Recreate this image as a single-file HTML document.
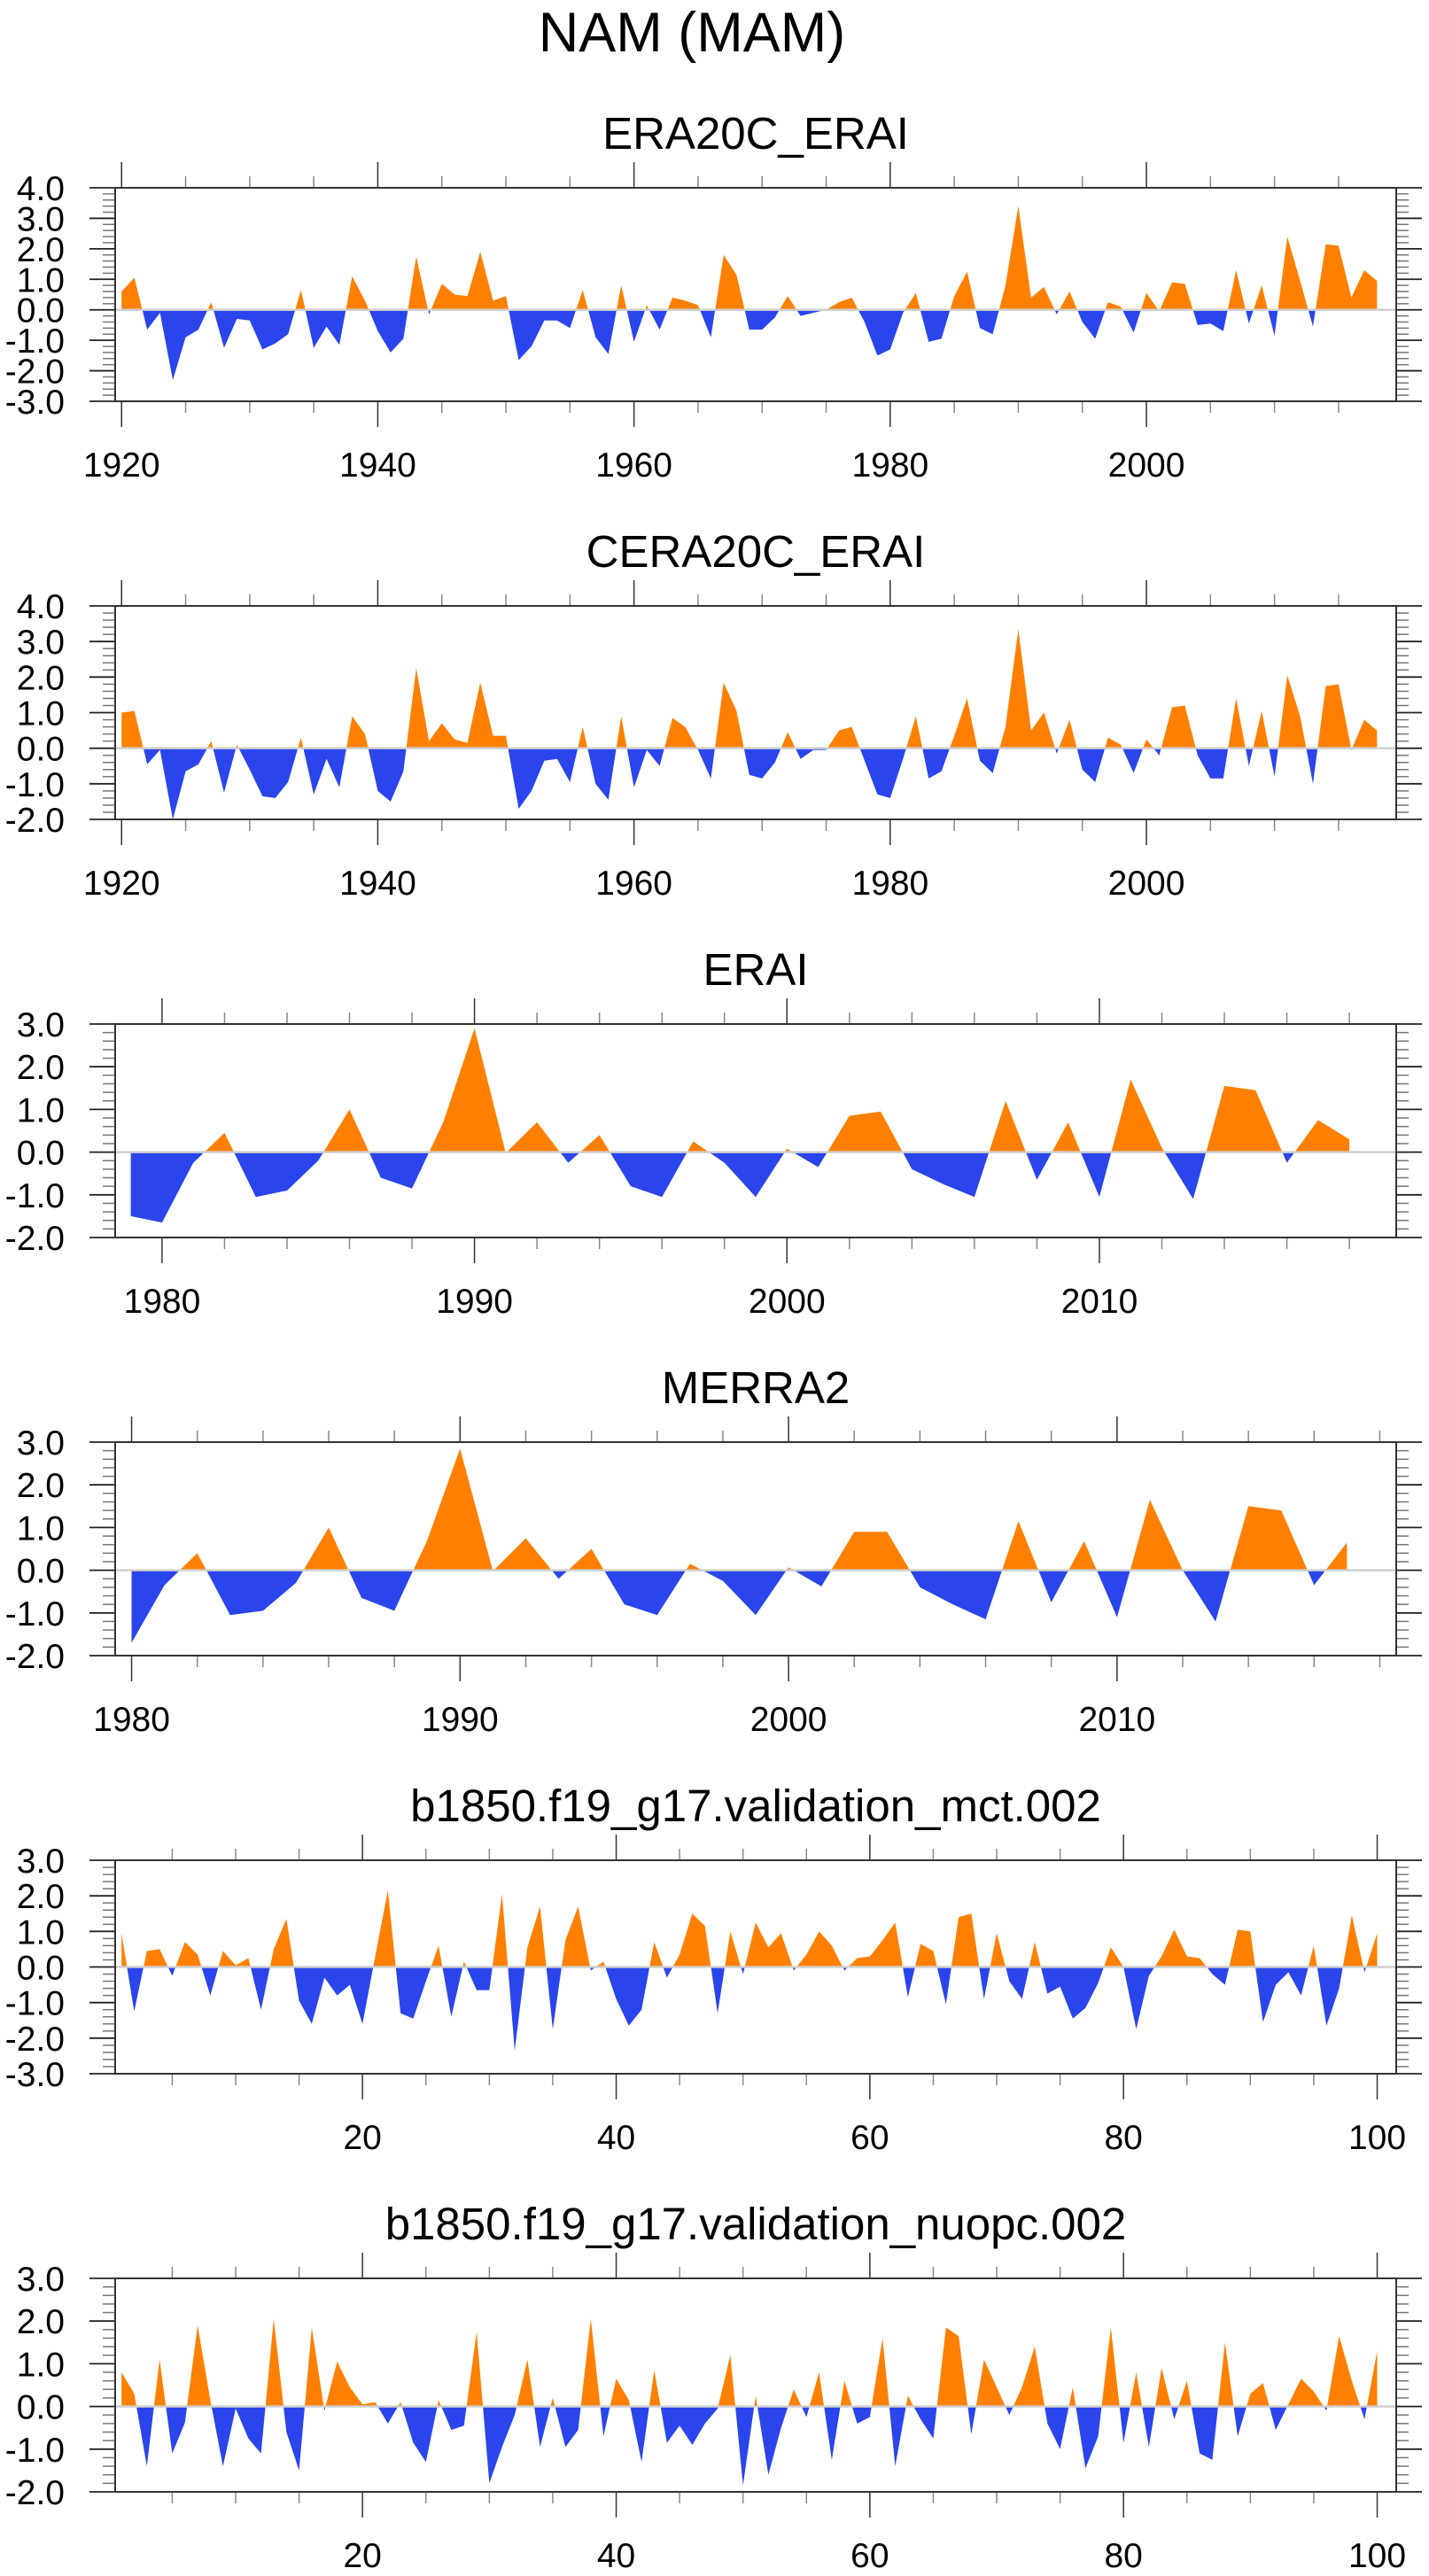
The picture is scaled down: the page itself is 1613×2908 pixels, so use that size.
<!DOCTYPE html>
<html>
<head>
<meta charset="utf-8">
<style>
  html, body { margin: 0; padding: 0; background: #ffffff; }
  svg { display: block; }
  text { font-family: "Liberation Sans", "DejaVu Sans", sans-serif; fill: #000; }
</style>
</head>
<body>
<svg id="chart" xmlns="http://www.w3.org/2000/svg" width="1613" height="2908" viewBox="0 0 1613 2908">
  <rect x="0" y="0" width="1613" height="2908" fill="#ffffff"></rect>
  <text x="781" y="58" font-size="63" text-anchor="middle">NAM (MAM)</text>
</svg>
<script>
// ---------------- data ----------------
const era20cStart = 1920;
const era20cValues = [0.6,1.05,-0.65,-0.1,-2.3,-0.9,-0.65,0.25,-1.25,-0.3,-0.35,-1.3,-1.1,-0.8,0.65,-1.25,-0.55,-1.15,1.1,0.3,-0.7,-1.4,-0.95,1.75,-0.15,0.85,0.5,0.45,1.9,0.3,0.45,-1.65,-1.2,-0.35,-0.35,-0.6,0.65,-0.9,-1.45,0.8,-1.05,0.15,-0.65,0.4,0.3,0.15,-0.9,1.8,1.15,-0.65,-0.65,-0.25,0.45,-0.2,-0.1,0.0,0.25,0.4,-0.4,-1.5,-1.3,-0.1,0.55,-1.05,-0.95,0.45,1.25,-0.6,-0.8,0.8,3.4,0.4,0.75,-0.15,0.6,-0.4,-0.95,0.25,0.1,-0.75,0.55,-0.05,0.9,0.85,-0.5,-0.45,-0.7,1.3,-0.45,0.8,-0.85,2.4,0.95,-0.55,2.15,2.1,0.4,1.3,0.95];
const cera20cStart = 1920;
const cera20cValues = [1.0,1.05,-0.45,-0.05,-2.0,-0.65,-0.45,0.2,-1.25,0.1,-0.6,-1.35,-1.4,-0.95,0.3,-1.3,-0.3,-1.1,0.9,0.4,-1.2,-1.5,-0.65,2.25,0.2,0.7,0.25,0.15,1.85,0.35,0.35,-1.7,-1.2,-0.35,-0.3,-0.95,0.6,-1.0,-1.45,0.9,-1.1,-0.05,-0.5,0.85,0.6,-0.05,-0.85,1.85,1.05,-0.75,-0.85,-0.4,0.45,-0.3,-0.05,-0.05,0.5,0.6,-0.35,-1.3,-1.4,-0.3,0.9,-0.85,-0.65,0.35,1.4,-0.35,-0.7,0.6,3.35,0.5,1.0,-0.15,0.8,-0.6,-0.95,0.3,0.1,-0.7,0.25,-0.2,1.15,1.2,-0.2,-0.85,-0.85,1.4,-0.5,1.05,-0.8,2.05,0.9,-1.0,1.75,1.8,-0.05,0.8,0.5];
const eraiStart = 1979;
const eraiValues = [-1.5,-1.65,-0.25,0.45,-1.05,-0.9,-0.2,1.0,-0.6,-0.85,0.7,2.9,-0.02,0.7,-0.25,0.4,-0.8,-1.05,0.25,-0.25,-1.05,0.08,-0.35,0.85,0.95,-0.4,-0.75,-1.05,1.2,-0.65,0.7,-1.05,1.7,0.1,-1.1,1.55,1.45,-0.25,0.75,0.3];
const merra2Start = 1980;
const merra2Values = [-1.7,-0.35,0.4,-1.05,-0.95,-0.3,1.0,-0.65,-0.95,0.7,2.85,-0.02,0.75,-0.2,0.5,-0.8,-1.05,0.15,-0.25,-1.05,0.07,-0.38,0.9,0.9,-0.4,-0.8,-1.15,1.15,-0.75,0.68,-1.1,1.65,0.0,-1.2,1.5,1.4,-0.35,0.65];
const mctStart = 1;
const mctValues = [0.95,-1.25,0.45,0.5,-0.25,0.7,0.35,-0.8,0.45,0.05,0.25,-1.2,0.5,1.35,-0.95,-1.6,-0.3,-0.8,-0.5,-1.6,0.3,2.15,-1.3,-1.45,-0.4,0.6,-1.4,0.15,-0.65,-0.65,2.05,-2.35,0.55,1.7,-1.75,0.75,1.7,-0.1,0.15,-0.9,-1.65,-1.2,0.7,-0.3,0.35,1.5,1.15,-1.3,1.0,-0.2,1.25,0.55,0.95,-0.1,0.35,1.0,0.6,-0.1,0.25,0.3,0.75,1.25,-0.85,0.65,0.45,-1.05,1.4,1.5,-0.9,0.95,-0.4,-0.9,0.7,-0.75,-0.55,-1.45,-1.15,-0.45,0.55,0.0,-1.75,-0.25,0.3,1.05,0.3,0.25,-0.2,-0.5,1.05,1.0,-1.55,-0.5,-0.15,-0.8,0.6,-1.65,-0.6,1.45,-0.15,0.95];
const nuopcStart = 1;
const nuopcValues = [0.8,0.3,-1.4,1.1,-1.1,-0.38,1.9,0.15,-1.4,-0.05,-0.75,-1.1,2.05,-0.6,-1.5,1.85,-0.1,1.05,0.45,0.05,0.1,-0.4,0.1,-0.85,-1.3,0.15,-0.55,-0.45,1.75,-1.8,-0.95,-0.2,1.1,-0.95,0.2,-0.95,-0.55,2.05,-0.7,0.65,0.15,-1.3,0.85,-0.85,-0.45,-0.9,-0.4,-0.05,1.2,-1.85,0.25,-1.6,-0.5,0.4,-0.25,0.8,-1.25,0.6,-0.4,-0.25,1.6,-1.4,0.25,-0.3,-0.75,1.85,1.65,-0.65,1.1,0.45,-0.2,0.45,1.4,-0.4,-1.0,0.45,-1.45,-0.7,1.85,-0.85,0.8,-0.95,0.9,-0.3,0.6,-1.1,-1.25,1.5,-0.7,0.3,0.55,-0.55,0.05,0.65,0.35,-0.1,1.65,0.6,-0.3,1.3];

const yLabels7 = ["-3.0","-2.0","-1.0","0.0","1.0","2.0","3.0","4.0"];
const yLabels6 = ["-2.0","-1.0","0.0","1.0","2.0","3.0","4.0"];
const yLabels5 = ["-2.0","-1.0","0.0","1.0","2.0","3.0"];
const yLabels6b = ["-3.0","-2.0","-1.0","0.0","1.0","2.0","3.0"];
const xLabelsCentury = ["1920","1940","1960","1980","2000"];
const xLabelsDecade = ["1980","1990","2000","2010"];
const xLabelsModel = ["20","40","60","80","100"];

// ---------------- drawing ----------------
const NS = "http://www.w3.org/2000/svg";
const svg = document.getElementById("chart");
const L = 130, R = 1576, H = 241;

function mk(parent, tag, attrs) {
  const e = document.createElementNS(NS, tag);
  for (const k in attrs) e.setAttribute(k, attrs[k]);
  parent.appendChild(e);
  return e;
}

function drawPanel(key, title, top, ymin, ymax, xmin, xmax, start, values, yLabels, xLabels, xMajorStep, xMinorStep) {
  const g = mk(svg, "g", {});
  
  
  const B = top + H;
  const sx = v => L + (v - xmin) / (xmax - xmin) * (R - L);
  const sy = v => top + (ymax - v) / (ymax - ymin) * H;
  const y0 = sy(0);

  const t = mk(g, "text", {x: 853, y: top - 44, "font-size": 51, "text-anchor": "middle"});
  t.textContent = title;
  
  

  // clip paths
  const defs = mk(g, "defs", {});
  const cpU = mk(defs, "clipPath", {id: key + "-up"});
  mk(cpU, "rect", {x: L, y: top, width: R - L, height: y0 - top});
  const cpD = mk(defs, "clipPath", {id: key + "-dn"});
  mk(cpD, "rect", {x: L, y: y0, width: R - L, height: B - y0});

  let d = "M" + sx(start).toFixed(2) + "," + y0.toFixed(2);
  for (let i = 0; i < values.length; i++) {
    d += " L" + sx(start + i).toFixed(2) + "," + sy(values[i]).toFixed(2);
  }
  d += " L" + sx(start + values.length - 1).toFixed(2) + "," + y0.toFixed(2) + " Z";
  const pos = mk(g, "path", {d: d, fill: "#ff8000", "clip-path": "url(#" + key + "-up)"});
  
  
  const neg = mk(g, "path", {d: d, fill: "#2a45ec", "clip-path": "url(#" + key + "-dn)"});
  
  

  const zl = mk(g, "line", {x1: L, x2: R, y1: y0, y2: y0, stroke: "#cfcfcf", "stroke-width": 2.5});
  
  

  // y ticks
  for (let k = 0; k <= (ymax - ymin) * 5; k++) {
    const v = ymin + k * 0.2;
    const y = sy(v);
    const major = (k % 5 === 0);
    const len = major ? 29 : 14;
    const c = major ? "#222" : "#777";
    const tl = mk(g, "line", {x1: L - len, x2: L, y1: y, y2: y, stroke: c, "stroke-width": major ? 1.8 : 1.5});
    
    
    const tr = mk(g, "line", {x1: R, x2: R + len, y1: y, y2: y, stroke: c, "stroke-width": major ? 1.8 : 1.5});
    
    
  }
  for (let i = 0; i < yLabels.length; i++) {
    const v = parseFloat(yLabels[i]);
    if (v < ymin - 1e-6 || v > ymax + 1e-6) continue;
    const lab = mk(g, "text", {x: 73, y: sy(v) + 14, "font-size": 39, "text-anchor": "end"});
    lab.textContent = yLabels[i];
    
    
  }

  // x ticks
  const first = Math.ceil(xmin / xMinorStep) * xMinorStep;
  for (let v = first; v <= xmax; v += xMinorStep) {
    const x = sx(v);
    const major = (Math.round(v) % xMajorStep === 0);
    const len = major ? 29 : 13;
    const c = major ? "#333" : "#888";
    const tt = mk(g, "line", {x1: x, x2: x, y1: top - len, y2: top, stroke: c, "stroke-width": 1.5});
    
    
    const tb = mk(g, "line", {x1: x, x2: x, y1: B, y2: B + len, stroke: c, "stroke-width": 1.5});
    
    
  }
  for (let i = 0; i < xLabels.length; i++) {
    const v = parseFloat(xLabels[i]);
    const lab = mk(g, "text", {x: sx(v), y: B + 85, "font-size": 39, "text-anchor": "middle"});
    lab.textContent = xLabels[i];
    
    
  }

  const fr = mk(g, "rect", {x: L, y: top, width: R - L, height: H, fill: "none", stroke: "#333", "stroke-width": 2});
  
  
}

drawPanel("era20c-erai", "ERA20C_ERAI", 212, -3, 4, 1919.5, 2019.5, era20cStart, era20cValues, yLabels7, xLabelsCentury, 20, 5);
drawPanel("cera20c-erai", "CERA20C_ERAI", 684, -2, 4, 1919.5, 2019.5, cera20cStart, cera20cValues, yLabels6, xLabelsCentury, 20, 5);
drawPanel("erai", "ERAI", 1156, -2, 3, 1978.5, 2019.5, eraiStart, eraiValues, yLabels5, xLabelsDecade, 10, 2);
drawPanel("merra2", "MERRA2", 1628, -2, 3, 1979.5, 2018.5, merra2Start, merra2Values, yLabels5, xLabelsDecade, 10, 2);
drawPanel("mct", "b1850.f19_g17.validation_mct.002", 2100, -3, 3, 0.5, 101.5, mctStart, mctValues, yLabels6b, xLabelsModel, 20, 5);
drawPanel("nuopc", "b1850.f19_g17.validation_nuopc.002", 2572, -2, 3, 0.5, 101.5, nuopcStart, nuopcValues, yLabels5, xLabelsModel, 20, 5);
</script>
</body>
</html>
